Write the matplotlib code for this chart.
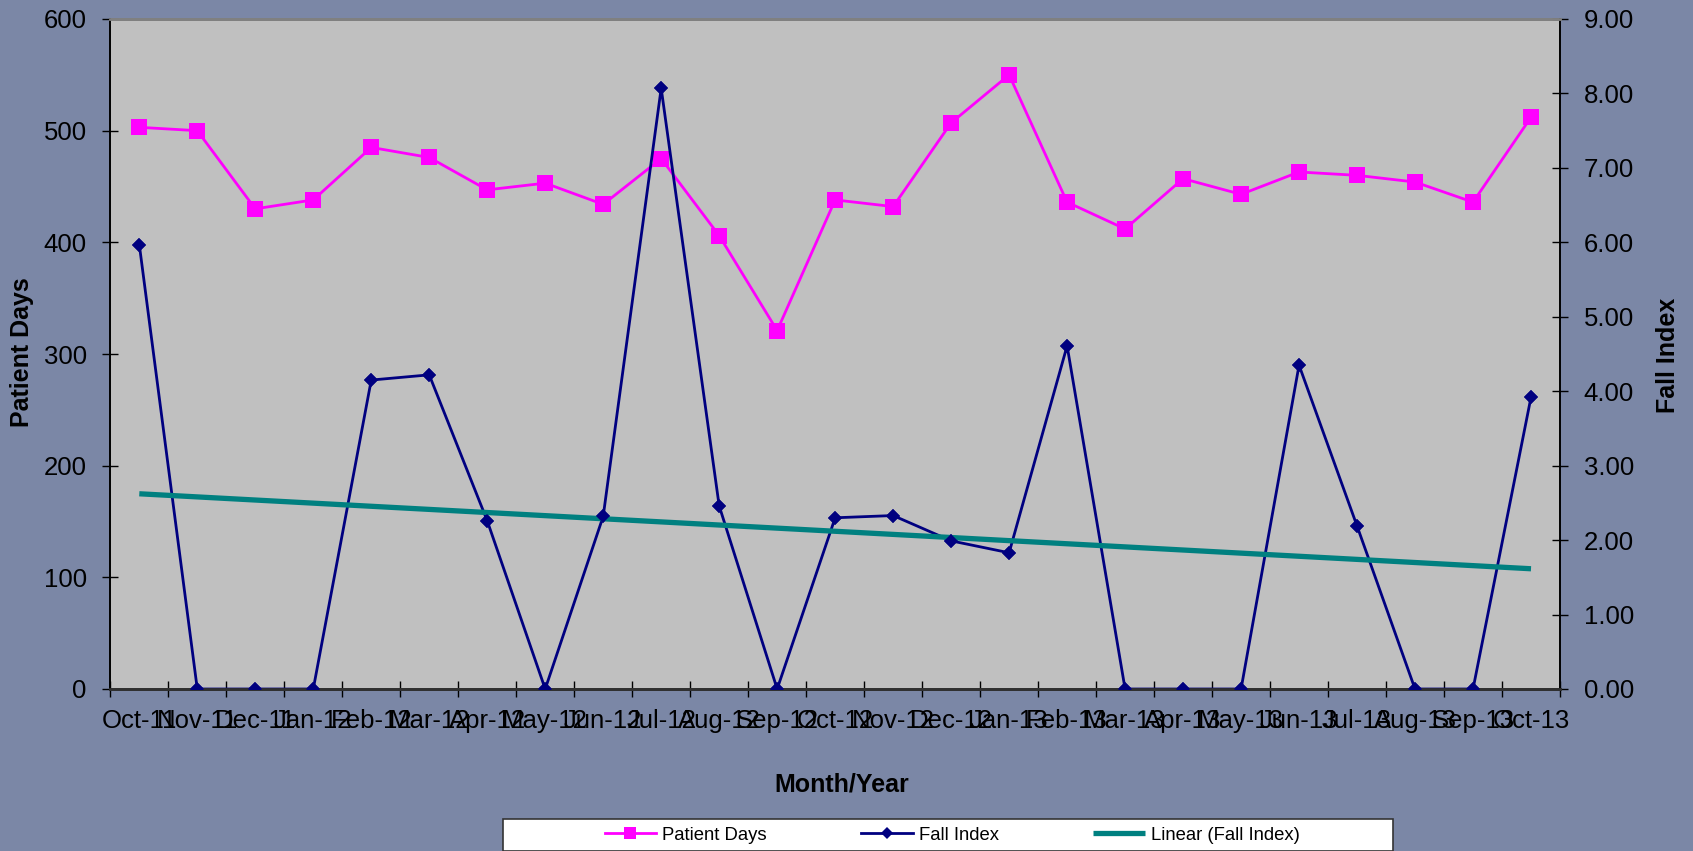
import matplotlib
matplotlib.use('Agg')
import matplotlib.pyplot as plt
import numpy as np
from matplotlib.patches import Rectangle

months = ['Oct-11', 'Nov-11', 'Dec-11', 'Jan-12', 'Feb-12', 'Mar-12', 'Apr-12',
          'May-12', 'Jun-12', 'Jul-12', 'Aug-12', 'Sep-12', 'Oct-12', 'Nov-12',
          'Dec-12', 'Jan-13', 'Feb-13', 'Mar-13', 'Apr-13', 'May-13', 'Jun-13',
          'Jul-13', 'Aug-13', 'Sep-13', 'Oct-13']
patient_days = [503, 500, 430, 438, 485, 476, 447, 453, 434, 475, 406, 321, 438,
                432, 507, 550, 436, 412, 457, 443, 463, 460, 454, 436, 512]
fall_index = [5.97, 0, 0, 0, 4.15, 4.22, 2.26, 0, 2.32, 8.07, 2.46, 0, 2.30,
              2.33, 1.99, 1.83, 4.61, 0, 0, 0, 4.35, 2.19, 0, 0, 3.92]
left_ticks = [0, 100, 200, 300, 400, 500, 600]
right_ticks = [0, 1, 2, 3, 4, 5, 6, 7, 8, 9]

plt.rcParams['font.family'] = ['Liberation Sans', 'DejaVu Sans']

W, H = 1693, 851
fig = plt.figure(figsize=(W / 100, H / 100), dpi=100)
fig.patch.set_facecolor('#7B87A6')

L, R, T, B = 110.3, 1560, 19, 689
ax = fig.add_axes([L / W, 1 - B / H, (R - L) / W, (B - T) / H])
ax.set_facecolor('#C0C0C0')
ax2 = ax.twinx()
ax2.patch.set_visible(False)

n = len(months)
x = np.arange(n) + 0.5

pd_line, = ax.plot(x, patient_days, color='#FF00FF', lw=2.0, marker='s',
                   markersize=11.5, markeredgewidth=0, zorder=3,
                   label='Patient Days')

fi_line, = ax2.plot(x, fall_index, color='#000080', lw=2.0, marker='D',
                    markersize=7.6, markeredgewidth=0, zorder=2,
                    label='Fall Index')
coef = np.polyfit(x, fall_index, 1)
trend = np.polyval(coef, x)
tr_line, = ax2.plot([x[0], x[-1]], [trend[0], trend[-1]], color='#008080',
                    lw=3.8, zorder=3, solid_capstyle='butt',
                    label='Linear (Fall Index)')
ax2.plot(x, fall_index, linestyle='none', color='#000080', marker='D',
         markersize=7.6, markeredgewidth=0, zorder=4)

ax.set_xlim(0, n)
ax.set_ylim(0, 600)
ax2.set_ylim(0, 9)
ax.set_yticks(left_ticks)
ax.set_yticklabels([str(v) for v in left_ticks])
ax2.set_yticks(right_ticks)
ax2.set_yticklabels(['%.2f' % v for v in right_ticks])

ax.set_xticks(np.arange(n + 1))
ax.set_xticklabels([])
ax.set_xticks(x, minor=True)
ax.set_xticklabels(months, minor=True)

ax.tick_params(axis='x', which='major', direction='inout', length=11.5,
               width=1, color='black')
ax.tick_params(axis='x', which='minor', length=0, pad=14.5, labelsize=18.5)
ax.tick_params(axis='y', direction='inout', length=11.5, width=1, pad=11.2,
               labelsize=18.5)
ax2.tick_params(axis='y', direction='inout', length=11.5, width=1, pad=11.2,
                labelsize=18.5)

for a in (ax, ax2):
    a.spines['top'].set_color('#808080')
    a.spines['top'].set_linewidth(2)
    a.spines['bottom'].set_color('#303030')
    a.spines['bottom'].set_linewidth(2)
    a.spines['left'].set_color('black')
    a.spines['right'].set_color('black')
    a.spines['left'].set_linewidth(1.2)
    a.spines['right'].set_linewidth(1.2)

ax.set_xlabel('Month/Year', fontsize=18, fontweight='bold')
ax.xaxis.set_label_coords((842 - L) / (R - L), (B - 784) / (B - T))
ax.xaxis.label.set_va('center')
ax.set_ylabel('Patient Days', fontsize=18, fontweight='bold')
ax.yaxis.set_label_coords((21.6 - L) / (R - L), (B - 352) / (B - T))
ax.yaxis.label.set_va('center')
ax2.set_ylabel('Fall Index', fontsize=18, fontweight='bold', rotation=90)
ax2.yaxis.set_label_coords((1668 - L) / (R - L), (B - 355) / (B - T))
ax2.yaxis.label.set_va('center')

box = Rectangle((503 / W, 0.5 / H), 890 / W, 31.5 / H, transform=fig.transFigure,
                facecolor='white', edgecolor='#333333', lw=1.2, zorder=1)
fig.add_artist(box)
leg = fig.legend([pd_line, fi_line, tr_line],
                 ['Patient Days', 'Fall Index', 'Linear (Fall Index)'],
                 loc='center', bbox_to_anchor=(952 / W, 1 - 835 / H), ncol=3,
                 frameon=False, fontsize=13.3, handlelength=2.8,
                 handletextpad=0.32, columnspacing=5.1, markerscale=0.8,
                 borderpad=0.1)
leg.set_zorder(5)

fig.savefig('out.png', dpi=100, facecolor=fig.get_facecolor())
